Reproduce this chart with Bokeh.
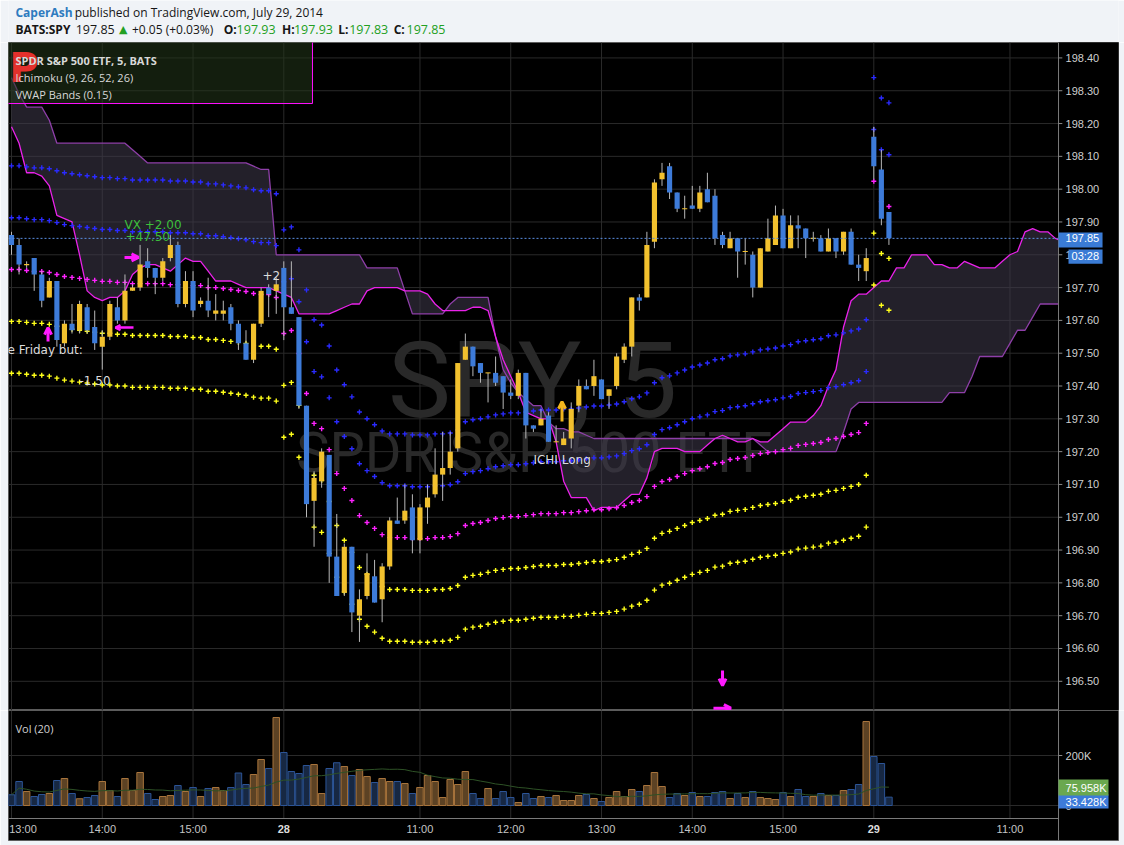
import numpy as np
import pandas as pd
from bokeh.plotting import figure
from bokeh.models import Range1d, Arrow, OpenHead
from bokeh.layouts import column
from bokeh.core.properties import value
from bokeh.embed import file_html
from bokeh.resources import INLINE

# ---------------- data (SPY 5-min, BATS) ----------------
opens = [197.86,197.83,197.77,197.79,197.74,197.67,197.72,197.53,197.59,197.57,
         197.64,197.58,197.52,197.55,197.64,197.60,197.69,197.70,197.78,197.76,
         197.73,197.79,197.83,197.65,197.72,197.65,197.66,197.62,197.62,197.64,
         197.59,197.53,197.48,197.59,197.70,197.69,197.76,197.64,197.61,197.34,
         197.05,197.11,197.19,196.88,196.77,196.91,196.70,196.76,196.82,196.75,
         196.85,196.99,196.99,197.03,196.93,197.03,197.07,197.13,197.15,197.21,
         197.48,197.52,197.47,197.44,197.44,197.43,197.38,197.37,197.44,197.28,
         197.28,197.31,197.23,197.22,197.24,197.34,197.40,197.40,197.42,197.37,
         197.40,197.48,197.52,197.67,197.67,197.84,198.03,198.07,197.99,197.94,
         197.95,197.94,198.00,197.98,197.86,197.82,197.85,197.81,197.80,197.70,
         197.81,197.83,197.92,197.82,197.89,197.88,197.85,197.85,197.81,197.85,
         197.81,197.87,197.77,197.75,198.16,198.06,197.93]
highs = [197.87,197.85,197.78,197.79,197.75,197.73,197.72,197.60,197.65,197.66,
         197.65,197.63,197.57,197.66,197.67,197.74,197.71,197.83,197.82,197.76,
         197.79,197.86,197.84,197.75,197.75,197.67,197.73,197.68,197.66,197.65,
         197.60,197.57,197.59,197.70,197.71,197.73,197.78,197.78,197.61,197.34,
         197.14,197.21,197.19,197.01,196.92,196.91,196.78,196.89,196.87,196.86,
         197.00,197.06,197.10,197.07,197.04,197.10,197.21,197.26,197.26,197.47,
         197.56,197.52,197.47,197.44,197.49,197.43,197.42,197.45,197.44,197.28,
         197.33,197.32,197.28,197.26,197.35,197.42,197.42,197.48,197.42,197.39,
         197.50,197.53,197.67,197.68,197.87,198.03,198.08,198.08,197.99,197.98,
         198.01,198.01,198.05,198.00,197.87,197.87,197.85,197.85,197.81,197.82,
         197.91,197.95,197.94,197.92,197.92,197.88,197.87,197.86,197.88,197.85,
         197.87,197.88,197.80,197.82,198.19,198.12,197.93]
lows = [197.80,197.74,197.76,197.69,197.64,197.67,197.52,197.52,197.56,197.56,
        197.56,197.51,197.45,197.54,197.59,197.59,197.69,197.69,197.73,197.68,
        197.72,197.78,197.64,197.64,197.61,197.64,197.61,197.60,197.60,197.57,
        197.51,197.48,197.47,197.58,197.61,197.62,197.54,197.62,197.33,197.00,
        196.91,197.09,196.80,196.76,196.76,196.65,196.62,196.75,196.74,196.68,
        196.84,196.98,196.98,196.89,196.89,196.98,197.06,197.05,197.13,197.20,
        197.48,197.43,197.41,197.35,197.40,197.33,197.36,197.36,197.24,197.26,
        197.28,197.23,197.23,197.22,197.21,197.32,197.39,197.37,197.36,197.33,
        197.39,197.47,197.49,197.63,197.67,197.82,198.01,197.97,197.93,197.91,
        197.94,197.93,197.96,197.83,197.82,197.82,197.73,197.77,197.67,197.70,
        197.81,197.83,197.82,197.82,197.82,197.79,197.84,197.81,197.81,197.79,
        197.80,197.77,197.72,197.72,198.03,197.89,197.83]
closes = [197.83,197.77,197.77,197.74,197.66,197.72,197.54,197.59,197.57,197.65,
          197.57,197.53,197.55,197.65,197.60,197.69,197.70,197.77,197.76,197.73,
          197.78,197.83,197.65,197.72,197.63,197.66,197.63,197.63,197.63,197.59,
          197.53,197.48,197.59,197.69,197.68,197.71,197.64,197.62,197.34,197.04,
          197.12,197.20,196.88,196.76,196.91,196.71,196.75,196.83,196.74,196.85,
          196.99,196.98,197.02,196.93,197.03,197.06,197.13,197.15,197.20,197.47,
          197.52,197.46,197.44,197.44,197.41,197.38,197.37,197.44,197.28,197.27,
          197.30,197.23,197.23,197.24,197.33,197.40,197.39,197.43,197.36,197.39,
          197.49,197.52,197.67,197.66,197.83,198.02,198.05,197.99,197.94,197.94,
          197.94,197.99,197.96,197.85,197.83,197.85,197.81,197.81,197.70,197.82,
          197.85,197.92,197.82,197.89,197.88,197.85,197.85,197.81,197.85,197.81,
          197.87,197.77,197.76,197.79,198.07,197.91,197.85]
volumes_k = [43,96,56,36,44,48,100,108,48,27,
             32,40,96,60,36,108,60,132,48,24,
             36,40,80,56,72,36,68,72,60,72,
             130,84,124,184,148,352,212,136,128,160,
             164,48,148,171,156,120,144,116,92,108,
             96,96,88,48,72,120,96,32,104,84,
             136,48,28,68,28,56,32,12,48,28,
             36,32,40,20,20,40,44,28,16,32,
             56,36,64,56,80,132,76,32,48,40,
             52,36,36,52,56,28,48,32,56,32,
             28,24,52,36,64,36,36,48,40,40,
             60,64,84,336,196,168,33.428]
vwap = [197.755,197.755,197.752,197.749,197.749,197.746,197.740,197.734,197.731,197.728,
        197.725,197.722,197.719,197.719,197.716,197.716,197.712,197.712,197.712,197.712,
        197.712,197.709,197.709,197.709,197.706,197.706,197.700,197.700,197.697,197.694,
        197.691,197.688,197.682,197.679,197.679,197.670,197.560,197.569,197.499,197.377,
        197.286,197.270,197.206,197.133,197.088,197.051,197.005,196.984,196.966,196.947,
        196.938,196.938,196.938,196.935,196.935,196.935,196.938,196.938,196.941,196.950,
        196.975,196.981,196.984,196.990,196.996,196.999,197.002,197.002,197.005,197.008,
        197.011,197.011,197.011,197.014,197.014,197.017,197.020,197.023,197.023,197.026,
        197.029,197.036,197.045,197.051,197.063,197.094,197.109,197.115,197.124,197.133,
        197.142,197.148,197.154,197.164,197.167,197.176,197.179,197.182,197.188,197.194,
        197.197,197.200,197.206,197.210,197.219,197.222,197.225,197.228,197.237,197.240,
        197.246,197.252,197.258,197.286,198.024,197.962,197.947]
band_step = 0.158   # VWAP band offset (price units)
span_a = [198.19,198.14,198.05,198.05,198.04,198.01,197.92,197.91,197.90,197.80,
          197.69,197.67,197.66,197.67,197.67,197.69,197.74,197.76,197.77,197.77,
          197.76,197.75,197.77,197.79,197.78,197.78,197.75,197.72,197.72,197.72,
          197.71,197.70,197.70,197.70,197.70,197.69,197.68,197.67,197.62,197.62,
          197.62,197.62,197.62,197.63,197.64,197.65,197.65,197.69,197.70,197.70,
          197.70,197.70,197.69,197.69,197.69,197.68,197.65,197.63,197.63,197.63,
          197.63,197.64,197.64,197.63,197.55,197.48,197.43,197.38,197.32,197.31,
          197.30,197.30,197.23,197.11,197.06,197.06,197.06,197.02,197.03,197.03,
          197.03,197.05,197.07,197.07,197.12,197.20,197.21,197.21,197.21,197.20,
          197.20,197.20,197.22,197.24,197.25,197.24,197.23,197.23,197.24,197.23,
          197.23,197.25,197.27,197.29,197.29,197.29,197.31,197.34,197.40,197.45,
          197.58,197.66,197.68,197.68,197.70,197.72,197.72,197.76,197.76,197.80,
          197.80,197.80,197.77,197.77,197.76,197.76,197.78,197.77,197.76,197.76,
          197.76,197.78,197.80,197.81,197.87,197.88,197.87,197.87,197.85,197.84]
span_b = [198.34,198.29,198.25,198.25,198.25,198.21,198.14,198.14,198.14,198.14,
          198.14,198.14,198.14,198.14,198.14,198.14,198.12,198.10,198.08,198.08,
          198.08,198.08,198.08,198.08,198.08,198.08,198.08,198.08,198.08,198.08,
          198.08,198.08,198.07,198.06,198.06,197.80,197.80,197.80,197.80,197.80,
          197.80,197.80,197.80,197.80,197.80,197.80,197.80,197.76,197.76,197.76,
          197.76,197.76,197.69,197.62,197.62,197.62,197.62,197.62,197.65,197.67,
          197.67,197.67,197.67,197.67,197.55,197.45,197.41,197.38,197.36,197.34,
          197.34,197.29,197.27,197.27,197.26,197.26,197.25,197.24,197.24,197.24,
          197.24,197.24,197.24,197.24,197.24,197.24,197.24,197.24,197.24,197.24,
          197.24,197.24,197.24,197.24,197.24,197.24,197.24,197.24,197.24,197.22,
          197.20,197.20,197.20,197.20,197.20,197.20,197.20,197.20,197.20,197.20,
          197.26,197.33,197.35,197.35,197.35,197.35,197.35,197.35,197.35,197.35,
          197.35,197.35,197.35,197.35,197.38,197.38,197.38,197.43,197.49,197.49,
          197.49,197.49,197.53,197.57,197.57,197.61,197.65,197.65,197.65,197.65]
time_ticks = [0, 12, 24, 36, 54, 66, 78, 90, 102, 114, 132]
time_labels = ["13:00", "14:00", "15:00", "28", "11:00", "12:00", "13:00", "14:00", "15:00", "29", "11:00"]
price_ticks = [196.5, 196.6, 196.7, 196.8, 196.9, 197.0, 197.1, 197.2, 197.3, 197.4,
               197.5, 197.6, 197.7, 197.8, 197.9, 198.0, 198.1, 198.2, 198.3, 198.4]
vol_ticks = [0, 200000]
vol_tick_labels = ["0", "200K"]
last_price = 197.85
price_change = "+0.05 (+0.03%)"
ohlc_last = [("O:", "197.93"), ("H:", "197.93"), ("L:", "197.83"), ("C:", "197.85")]
countdown = "03:28"
vol_ma_label = "75.958K"
vol_last_label = "33.428K"

# ---------------- styling / geometry ----------------
UI = "Open Sans"
ANNO = "DejaVu Sans"
AX = "Liberation Sans"
BG = "black"
PAGE = "#f0f3f7"
GRID = "#2a2a2a"
AXL = "#7a7a7a"
UP = "#f2c12e"
DN = "#3d7bd9"
TAG = "#3a7bd5"
XL, XR = -0.397, 146.35          # bar-index range across the frame
XA = 138.42                       # price-axis position (bar-index units)
XT = 139.35                       # axis label position
W = 1124

n = len(opens)
idx = np.arange(n)
o = np.array(opens); c = np.array(closes)
up = c >= o
mid = (o + c) / 2
half = np.maximum(np.abs(c - o) / 2, 0.0016)

def base_fig(h, yr, bottom=0):
    f = figure(width=W, height=h, x_range=Range1d(XL, XR), y_range=yr,
               output_backend="svg", toolbar_location=None,
               x_axis_location=None, y_axis_location=None,
               min_border_left=8, min_border_right=6, min_border_top=0, min_border_bottom=bottom,
               background_fill_color=BG, border_fill_color=PAGE, outline_line_color="#5c5c5c")
    f.grid.visible = False
    return f

# ---------------- header ----------------
hdr = figure(width=W, height=42, x_range=Range1d(0, W), y_range=Range1d(42, 0),
             output_backend="svg", toolbar_location=None, x_axis_location=None,
             y_axis_location=None, min_border=0, background_fill_color=PAGE,
             border_fill_color=PAGE, outline_line_color=None)
hdr.grid.visible = False
GRN = "#22a022"
def htext(x, y, t, color="#161616", size="12px", bold=False, font=UI):
    hdr.text(x=[x], y=[y], text=[t], text_font=value(font), text_font_size=size,
             text_color=color, text_baseline="middle",
             text_font_style="bold" if bold else "normal")
htext(7, 12, "CaperAsh", color="#2e7bbf", bold=True)
htext(67, 12, "published on TradingView.com, July 29, 2014")
htext(7, 29, "BATS:SPY", bold=True)
htext(68, 29, "%.2f" % last_price, size="12.5px")
htext(112, 29, "\u25B2", color=GRN, size="11px", font=ANNO)
htext(125, 29, price_change)
for (lab, val), xl, xv in zip(ohlc_last, [218, 277, 334, 390], [231, 289, 345, 403]):
    htext(xl, 29, lab, bold=True)
    htext(xv, 29, val, color=GRN, size="12.5px")

# ---------------- main price pane ----------------
p = base_fig(668, Range1d(196.411, 198.447))
Y0, Y1 = 196.411, 198.447
# grid
p.segment(x0=[XL] * len(price_ticks), y0=price_ticks, x1=[XA] * len(price_ticks), y1=price_ticks,
          line_color=GRID, line_width=1)
p.segment(x0=time_ticks, y0=[Y0] * len(time_ticks), x1=time_ticks, y1=[Y1] * len(time_ticks),
          line_color=GRID, line_width=1)

# watermark
p.text(x=[68.9], y=[197.414], text=["SPY, 5"], text_align="center", text_baseline="alphabetic",
       text_font=value("Roboto"), text_font_size="106px", text_color="#292929")
p.text(x=[69.1], y=[197.197], text=["SPDR S&P 500 ETF"], text_align="center",
       text_baseline="alphabetic", text_font=value("Roboto"), text_font_size="56px",
       text_color="#292929")

# Ichimoku cloud
ix = np.arange(len(span_a))
p.varea(x=ix, y1=span_a, y2=span_b, fill_color="#403a4c", fill_alpha=0.55)
p.line(ix, span_b, line_color="#8e3fa8", line_width=1.3)
p.line(ix, span_a, line_color="#ea22ea", line_width=1.3)

# VWAP bands
vw = np.array(vwap)
for k, col in [(2, "#2a2aff"), (1, "#2a2aff"), (0, "#ff22ff"), (-1, "#ffff1a"), (-2, "#ffff1a")]:
    p.scatter(idx, vw + k * band_step, marker="cross", size=5, line_color=col, line_width=1.4)

# candles
p.segment(x0=idx, y0=lows, x1=idx, y1=highs, line_color="#b8b8b8", line_width=1)
p.vbar(x=idx, top=mid + half, bottom=mid - half, width=0.68,
       fill_color=list(np.where(up, UP, DN)), line_color=None)

# last price line
p.segment(x0=[XL], y0=[last_price], x1=[XA], y1=[last_price], line_color="#5a8ee0",
          line_dash="2 2", line_width=1)

# legend box
p.quad(left=[-1], right=[39.79], top=[198.46], bottom=[198.261], fill_color="#22361a",
       fill_alpha=0.55, line_color="#ff10ff", line_width=1)
p.text(x=[-0.3], y=[198.368], text=["P"], text_font=value(ANNO), text_font_size="40px",
       text_font_style="bold", text_color="#e3302c", text_baseline="alphabetic")
p.text(x=[0.53], y=[198.392], text=["SPDR S&P 500 ETF, 5, BATS"], text_font=value(UI),
       text_font_size="11px", text_font_style="bold", text_color="#d8d8d8", text_baseline="middle")
p.text(x=[0.53, 0.53], y=[198.341, 198.289], text=["Ichimoku (9, 26, 52, 26)", "VWAP Bands (0.15)"],
       text_font=value(UI), text_font_size="11px", text_color="#d8d8d8", text_baseline="middle")

# chart annotations
p.text(x=[14.94, 15.07], y=[197.892, 197.856], text=["VX +2.00", "+47.50"], text_font=value(ANNO),
       text_font_size="12px", text_color="#3cbf3c", text_baseline="middle")
p.text(x=[33.18, -0.53, 8.99, 69.0], y=[197.737, 197.511, 197.417, 197.173],
       text=["+2", "e Friday but:", "-1.50", "ICHI Long"], text_font=value(ANNO),
       text_font_size="12px", text_color="#dcdcdc", text_baseline="middle")

# right price axis (drawn over a black strip)
p.quad(left=[XA], right=[XR + 1], top=[Y1 + 1], bottom=[Y0 - 1], fill_color=BG, line_color=None)
p.segment(x0=[XA], y0=[Y0], x1=[XA], y1=[Y1], line_color=AXL, line_width=1)
p.segment(x0=[XA] * len(price_ticks), y0=price_ticks, x1=[XA + 0.5] * len(price_ticks), y1=price_ticks,
          line_color="#8a8a8a", line_width=1)
p.text(x=[XT] * len(price_ticks), y=price_ticks, text=["%.2f" % t for t in price_ticks],
       text_font=value(AX), text_font_size="11px", text_color="#cfcfcf", text_baseline="middle")
# price tags
p.quad(left=[XA], right=[144.24], top=[197.868], bottom=[197.822], fill_color=TAG, line_color=None)
p.text(x=[XT], y=[last_price], text=["%.2f" % last_price], text_font=value(AX), text_font_size="11px",
       text_color="white", text_baseline="middle")
p.quad(left=[139.74], right=[144.24], top=[197.816], bottom=[197.773], fill_color=TAG, line_color=None)
p.text(x=[140.14], y=[197.795], text=[countdown], text_font=value(AX), text_font_size="11px",
       text_color="white", text_baseline="middle")

MAG = "#ff1aff"
def arrow(x0, y0, x1, y1, col, w=3, size=7):
    p.add_layout(Arrow(end=OpenHead(line_color=col, line_width=w, size=size),
                       x_start=x0, y_start=y0, x_end=x1, y_end=y1,
                       line_color=col, line_width=w))
arrow(4.83, 197.536, 4.83, 197.578, MAG)
arrow(14.94, 197.792, 16.79, 197.792, MAG)
arrow(16.13, 197.578, 13.75, 197.578, MAG, w=2.5, size=5)
arrow(94.0, 196.533, 94.0, 196.487, MAG)
arrow(92.8, 196.418, 95.1, 196.418, MAG)
arrow(72.78, 197.292, 72.78, 197.352, "#f2b51e")

# ---------------- volume pane ----------------
VY0, VY1 = -140000, 380000
VSEP = -52000          # time-axis separator
VLAB = -92000          # time label line
v = base_fig(135, Range1d(VY0, VY1), bottom=5)
v.segment(x0=[XL] * 2, y0=vol_ticks, x1=[XA] * 2, y1=vol_ticks, line_color=GRID, line_width=1)
v.segment(x0=time_ticks, y0=[VSEP] * len(time_ticks), x1=time_ticks, y1=[VY1] * len(time_ticks),
          line_color=GRID, line_width=1)
vol = np.array(volumes_k) * 1000.0
v.vbar(x=idx, top=vol, bottom=0, width=0.86,
       fill_color=list(np.where(up, "#5c4224", "#172843")),
       line_color=list(np.where(up, "#a8743c", "#2c5496")), line_width=1)
ma = pd.Series(vol).rolling(20, min_periods=1).mean()
v.line(idx, ma.values, line_color="#2e5226", line_width=1)
v.text(x=[0.53], y=[308000], text=["Vol (20)"], text_font=value(UI), text_font_size="11px",
       text_color="#d0d0d0", text_baseline="middle")
# time axis
v.segment(x0=[XL], y0=[VSEP], x1=[XA], y1=[VSEP], line_color=AXL, line_width=1)
edge_lab = [i for i, t in enumerate(time_ticks) if t < 2]
day_lab = [i for i, t in enumerate(time_labels) if ":" not in t]
hr_lab = [i for i, t in enumerate(time_labels) if ":" in t and i not in edge_lab]
v.text(x=[XL + 0.1] * len(edge_lab), y=[VLAB] * len(edge_lab), text=[time_labels[i] for i in edge_lab],
       text_font=value(AX), text_font_size="11px", text_color="#c4c4c4",
       text_align="left", text_baseline="middle")
v.text(x=[time_ticks[i] for i in hr_lab], y=[VLAB] * len(hr_lab), text=[time_labels[i] for i in hr_lab],
       text_font=value(AX), text_font_size="11px", text_color="#c4c4c4",
       text_align="center", text_baseline="middle")
v.text(x=[time_ticks[i] for i in day_lab], y=[VLAB] * len(day_lab), text=[time_labels[i] for i in day_lab],
       text_font=value(AX), text_font_size="11px", text_font_style="bold", text_color="#dcdcdc",
       text_align="center", text_baseline="middle")
# right volume axis
v.segment(x0=[XA], y0=[VY0], x1=[XA], y1=[VY1], line_color=AXL, line_width=1)
v.segment(x0=[XA] * 2, y0=vol_ticks, x1=[XA + 0.5] * 2, y1=vol_ticks, line_color="#8a8a8a", line_width=1)
v.text(x=[XT] * 2, y=vol_ticks, text=vol_tick_labels, text_font=value(AX), text_font_size="11px",
       text_color="#cfcfcf", text_baseline="middle")
v.quad(left=[XA], right=[145.03], top=[44000], bottom=[-12000], fill_color="#3d7bd9", line_color=None)
v.text(x=[XT], y=[16000], text=[vol_last_label], text_font=value(AX), text_font_size="11px",
       text_color="white", text_baseline="middle")
v.quad(left=[XA], right=[145.03], top=[104000], bottom=[40000], fill_color="#6aa84f", line_color=None)
v.text(x=[XT], y=[72000], text=[vol_ma_label], text_font=value(AX), text_font_size="11px",
       text_color="white", text_baseline="middle")

layout = column(hdr, p, v, spacing=0)
open("out.html", "w").write(file_html(layout, INLINE, title="SPY 5"))
